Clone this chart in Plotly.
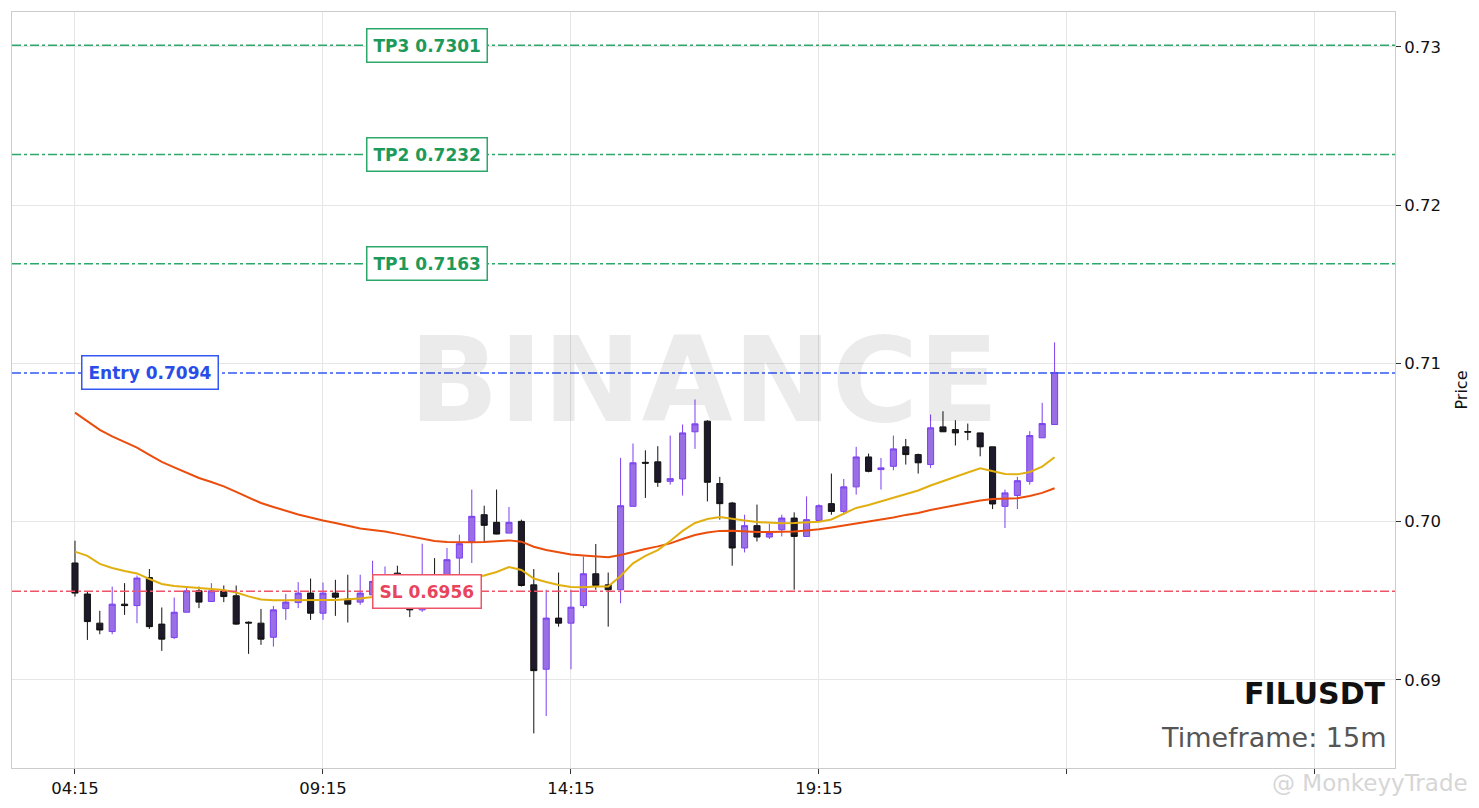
import pandas as pd
import plotly.graph_objects as go

# 15m candles, FILUSDT
times = pd.date_range("2024-05-01 04:15", periods=80, freq="15min")

opens = [
    0.69739, 0.69543, 0.69359, 0.69306, 0.69479, 0.69470, 0.69647, 0.69353, 0.69268, 0.69428,
    0.69563, 0.69496, 0.69563, 0.69532, 0.69365, 0.69359, 0.69270, 0.69451, 0.69489, 0.69549,
    0.69422, 0.69549, 0.69511, 0.69492, 0.69538, 0.69570, 0.69675, 0.69519, 0.69443, 0.69646,
    0.69570, 0.69770, 0.69875, 0.70044, 0.69996, 0.69928, 0.70002, 0.69601, 0.69068, 0.69391,
    0.69359, 0.69470, 0.69671, 0.69601, 0.69570, 0.70097, 0.70375, 0.70378, 0.70255, 0.70270,
    0.70568, 0.70635, 0.70241, 0.70118, 0.69834, 0.69975, 0.69903, 0.69949, 0.70023, 0.69907,
    0.70008, 0.70114, 0.70065, 0.70220, 0.70409, 0.70329, 0.70350, 0.70473, 0.70424, 0.70361,
    0.70599, 0.70582, 0.70570, 0.70561, 0.70473, 0.70097, 0.70166, 0.70255, 0.70530, 0.70614,
]
highs = [
    0.69880, 0.69559, 0.69437, 0.69590, 0.69612, 0.69660, 0.69701, 0.69458, 0.69521, 0.69582,
    0.69590, 0.69612, 0.69597, 0.69597, 0.69370, 0.69449, 0.69468, 0.69544, 0.69618, 0.69641,
    0.69616, 0.69633, 0.69665, 0.69665, 0.69753, 0.69717, 0.69722, 0.69560, 0.69861, 0.69770,
    0.69834, 0.69918, 0.70203, 0.70101, 0.70203, 0.70093, 0.70013, 0.69701, 0.69570, 0.69679,
    0.69570, 0.69780, 0.69859, 0.69679, 0.70403, 0.70494, 0.70451, 0.70477, 0.70544, 0.70614,
    0.70772, 0.70641, 0.70283, 0.70125, 0.70044, 0.70108, 0.69987, 0.70044, 0.70059, 0.70160,
    0.70110, 0.70304, 0.70270, 0.70473, 0.70430, 0.70403, 0.70544, 0.70523, 0.70430, 0.70677,
    0.70698, 0.70641, 0.70620, 0.70561, 0.70473, 0.70203, 0.70283, 0.70572, 0.70751, 0.71133,
]
lows = [
    0.69527, 0.69253, 0.69289, 0.69289, 0.69411, 0.69359, 0.69323, 0.69184, 0.69259, 0.69428,
    0.69454, 0.69496, 0.69492, 0.69348, 0.69165, 0.69222, 0.69211, 0.69380, 0.69454, 0.69380,
    0.69380, 0.69405, 0.69363, 0.69475, 0.69520, 0.69530, 0.69540, 0.69397, 0.69430, 0.69454,
    0.69550, 0.69633, 0.69739, 0.69869, 0.69920, 0.69928, 0.69590, 0.68663, 0.68772, 0.69337,
    0.69068, 0.69454, 0.69570, 0.69337, 0.69485, 0.70097, 0.70150, 0.70220, 0.70234, 0.70165,
    0.70460, 0.70128, 0.70013, 0.69722, 0.69806, 0.69875, 0.69891, 0.69907, 0.69570, 0.69907,
    0.70000, 0.70044, 0.70044, 0.70171, 0.70312, 0.70203, 0.70325, 0.70361, 0.70304, 0.70340,
    0.70568, 0.70481, 0.70515, 0.70413, 0.70080, 0.69960, 0.70080, 0.70234, 0.70530, 0.70614,
]
closes = [
    0.69549, 0.69369, 0.69316, 0.69479, 0.69470, 0.69644, 0.69337, 0.69258, 0.69428, 0.69563,
    0.69492, 0.69563, 0.69527, 0.69353, 0.69360, 0.69258, 0.69443, 0.69492, 0.69549, 0.69422,
    0.69549, 0.69523, 0.69479, 0.69549, 0.69623, 0.69633, 0.69570, 0.69443, 0.69601, 0.69506,
    0.69760, 0.69861, 0.70034, 0.69977, 0.69922, 0.69996, 0.69597, 0.69059, 0.69391, 0.69359,
    0.69460, 0.69671, 0.69597, 0.69570, 0.70101, 0.70372, 0.70370, 0.70249, 0.70272, 0.70561,
    0.70618, 0.70249, 0.70114, 0.69834, 0.69975, 0.69903, 0.69928, 0.70023, 0.69907, 0.70013,
    0.70101, 0.70065, 0.70220, 0.70409, 0.70318, 0.70340, 0.70460, 0.70424, 0.70372, 0.70593,
    0.70568, 0.70561, 0.70566, 0.70473, 0.70112, 0.70182, 0.70259, 0.70544, 0.70620, 0.70943,
]

# moving averages
ma_fast = [
    0.69811, 0.69784, 0.69733, 0.69708, 0.69689, 0.69673, 0.69638, 0.69607, 0.69594, 0.69588,
    0.69581, 0.69578, 0.69569, 0.69553, 0.69528, 0.69509, 0.69504, 0.69504, 0.69506, 0.69504,
    0.69506, 0.69506, 0.69509, 0.69515, 0.69524, 0.69534, 0.69543, 0.69550, 0.69562, 0.69575,
    0.69600, 0.69626, 0.69645, 0.69660, 0.69682, 0.69714, 0.69695, 0.69641, 0.69619, 0.69600,
    0.69588, 0.69586, 0.69591, 0.69591, 0.69657, 0.69737, 0.69784, 0.69821, 0.69878, 0.69942,
    0.69992, 0.70017, 0.70030, 0.70021, 0.70008, 0.69998, 0.69992, 0.69990, 0.69992, 0.69995,
    0.70000, 0.70014, 0.70049, 0.70087, 0.70106, 0.70128, 0.70150, 0.70175, 0.70197, 0.70229,
    0.70258, 0.70283, 0.70311, 0.70338, 0.70318, 0.70302, 0.70299, 0.70314, 0.70348, 0.70407,
]
ma_slow = [
    0.70689, 0.70634, 0.70580, 0.70539, 0.70504, 0.70468, 0.70422, 0.70378, 0.70343, 0.70308,
    0.70276, 0.70251, 0.70223, 0.70188, 0.70153, 0.70118, 0.70093, 0.70068, 0.70046, 0.70027,
    0.70007, 0.69992, 0.69973, 0.69957, 0.69948, 0.69938, 0.69923, 0.69907, 0.69891, 0.69878,
    0.69872, 0.69870, 0.69870, 0.69872, 0.69875, 0.69882, 0.69874, 0.69842, 0.69821, 0.69806,
    0.69793, 0.69787, 0.69780, 0.69775, 0.69790, 0.69811, 0.69828, 0.69844, 0.69863, 0.69891,
    0.69916, 0.69932, 0.69942, 0.69943, 0.69938, 0.69935, 0.69935, 0.69937, 0.69938, 0.69945,
    0.69952, 0.69964, 0.69976, 0.69989, 0.70002, 0.70015, 0.70027, 0.70043, 0.70055, 0.70074,
    0.70090, 0.70106, 0.70118, 0.70134, 0.70144, 0.70147, 0.70148, 0.70163, 0.70182, 0.70211,
]

# trade levels
level_names = ["TP3", "TP2", "TP1", "Entry", "SL"]
level_prices = [0.7301, 0.7232, 0.7163, 0.7094, 0.6956]
level_colors = ["#2ca86a", "#2ca86a", "#2ca86a", "#3557f2", "#ee5468"]
level_text_colors = ["#1d9a5a", "#1d9a5a", "#1d9a5a", "#2a4de8", "#e8455c"]
level_label_x = [0.3, 0.3, 0.3, 0.0998, 0.3]

tick_vals = pd.date_range("2024-05-01 04:15", periods=6, freq="5h")
tick_text = ["04:15", "09:15", "14:15", "19:15", "", ""]

FONT = "DejaVu Sans"

fig = go.Figure()

fig.add_trace(go.Candlestick(
    x=times, open=opens, high=highs, low=lows, close=closes,
    increasing=dict(fillcolor="#9a6fe6", line=dict(color="#7b3ff0", width=1)),
    decreasing=dict(fillcolor="#1f1a2b", line=dict(color="#111111", width=1)),
    whiskerwidth=0,
    showlegend=False,
))
fig.add_trace(go.Scatter(x=times, y=ma_slow, mode="lines",
                         line=dict(color="#ea4d0c", width=2), showlegend=False))
fig.add_trace(go.Scatter(x=times, y=ma_fast, mode="lines",
                         line=dict(color="#e1b010", width=2), showlegend=False))

for name, price, col, tcol, lx in zip(level_names, level_prices, level_colors,
                                       level_text_colors, level_label_x):
    fig.add_shape(type="line", xref="paper", x0=0, x1=1, y0=price, y1=price,
                  line=dict(color=col, width=1.5, dash="dashdot"), layer="above")
    fig.add_annotation(
        x=lx, xref="paper", y=price, yref="y", xanchor="center", yanchor="middle",
        text=f"<b>{name} {price:.4f}</b>", showarrow=False,
        font=dict(family=FONT, size=17, color=tcol),
        bgcolor="white", bordercolor=col, borderwidth=1.5, borderpad=6,
    )

# watermarks and symbol info
fig.add_annotation(x=0.5, y=0.513, xref="paper", yref="paper", text="<b>BINANCE</b>",
                   yanchor="middle", showarrow=False,
                   font=dict(family=FONT, size=118, color="rgba(0,0,0,0.08)"))
fig.add_annotation(x=0.995, y=0.099, xref="paper", yref="paper", text="<b>FILUSDT</b>",
                   xanchor="right", yanchor="middle", showarrow=False,
                   font=dict(family=FONT, size=30, color="#111111"))
fig.add_annotation(x=0.995, y=0.041, xref="paper", yref="paper", text="Timeframe: 15m",
                   xanchor="right", yanchor="middle", showarrow=False,
                   font=dict(family=FONT, size=27, color="#555555"))
fig.add_annotation(x=1.054, y=-0.02, xref="paper", yref="paper", text="@ MonkeyyTrade",
                   xanchor="right", yanchor="middle", showarrow=False,
                   font=dict(family=FONT, size=23, color="#d6d6d6"))

fig.update_layout(
    width=1471, height=800,
    margin=dict(l=4, r=84, t=4, b=40),
    paper_bgcolor="white", plot_bgcolor="white",
    font=dict(family=FONT, size=16.5, color="#111111"),
    boxgap=0.3,
    showlegend=False,
    xaxis=dict(
        rangeslider=dict(visible=False),
        range=["2024-05-01 02:58:48", "2024-05-02 06:51:48"],
        tickvals=tick_vals, ticktext=tick_text,
        showgrid=True, gridcolor="#e6e6e6",
        ticks="outside", ticklen=5, tickcolor="#333333",
        showline=True, linecolor="#cccccc", mirror=True,
    ),
    yaxis=dict(
        side="right",
        range=[0.68444, 0.7322],
        dtick=0.01, tickformat=".2f",
        showgrid=True, gridcolor="#e6e6e6",
        ticks="outside", ticklen=5, tickcolor="#333333",
        showline=True, linecolor="#cccccc", mirror=True,
        zeroline=False,
        title=dict(text="Price", font=dict(size=16)),
    ),
)

fig.write_html("out.html")
